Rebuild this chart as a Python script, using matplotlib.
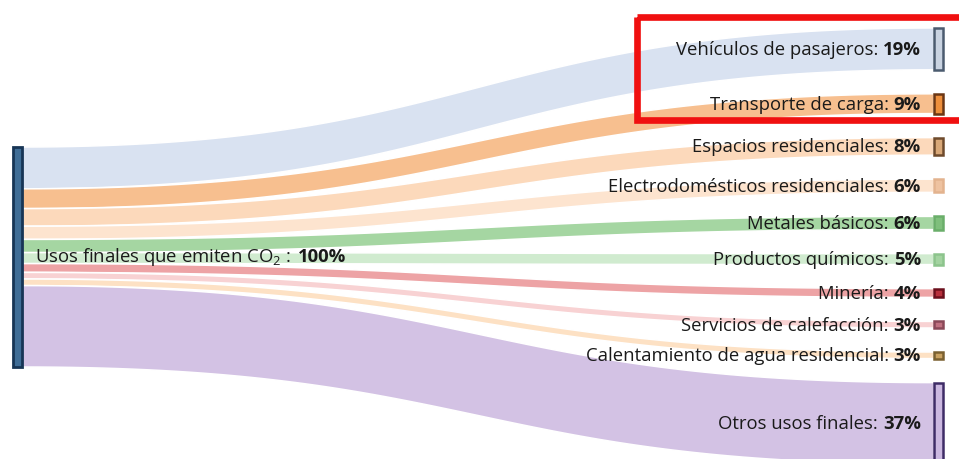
import numpy as np
import matplotlib.pyplot as plt
from matplotlib.patches import Rectangle, Polygon
from matplotlib.offsetbox import TextArea, HPacker, AnnotationBbox

plt.rcParams['font.family'] = ['Open Sans', 'DejaVu Sans']
plt.rcParams['mathtext.fontset'] = 'custom'
plt.rcParams['mathtext.rm'] = 'Open Sans'

source = 'Usos finales que emiten CO$_2$ :'
source_total = '100%'

targets = ['Vehículos de pasajeros', 'Transporte de carga', 'Espacios residenciales',
           'Electrodomésticos residenciales', 'Metales básicos', 'Productos químicos',
           'Minería', 'Servicios de calefacción', 'Calentamiento de agua residencial',
           'Otros usos finales']
shares = [19, 9, 8, 6, 6, 5, 4, 3, 3, 37]

link_colors = ['#d9e2f1', '#f7bf8f', '#fcd9bb', '#fde4cf', '#a5d6a2',
               '#d0ebcf', '#eda3a5', '#f8d2d3', '#fde1c4', '#d3c2e4']
node_faces = ['#c9d3e1', '#ee8f3c', '#d9a878', '#eec2a0', '#7fbf7c',
              '#a3d3a0', '#b8303c', '#c07080', '#c8a060', '#cbb8e0']
node_edges = ['#4b5b6f', '#6b3614', '#6e4a2c', '#e3b38e', '#6aae6a',
              '#8cc48c', '#6b0f1c', '#8a4858', '#7a6030', '#3e2c66']

W, H = 959, 460
fig = plt.figure(figsize=(W / 100, H / 100), dpi=100)
ax = fig.add_axes([0, 0, 1, 1])
ax.set_xlim(0, W)
ax.set_ylim(H, 0)
ax.axis('off')

# layout in pixels
scale = 2.2          # px per percent
gap = 24
left_x0, left_x1 = 13, 22
left_top = 148
right_x0, right_x1 = 934, 943
right_top = 29
fs = 13.3

t = np.linspace(0, 1, 80)


def bezier(y0, y1, xa, xb):
    xm = (xa + xb) / 2
    x = (1 - t)**3 * xa + 3 * (1 - t)**2 * t * xm + 3 * (1 - t) * t**2 * xm + t**3 * xb
    y = (1 - t)**3 * y0 + 3 * (1 - t)**2 * t * y0 + 3 * (1 - t) * t**2 * y1 + t**3 * y1
    return x, y


ly = left_top
ry = right_top
for name, v, lc, nf, ne in zip(targets, shares, link_colors, node_faces, node_edges):
    h = v * scale
    xt, yt = bezier(ly, ry, left_x1, right_x0)
    xb, yb = bezier(ly + h, ry + h, left_x1, right_x0)
    pts = np.vstack([np.column_stack([xt, yt]), np.column_stack([xb, yb])[::-1]])
    ax.add_patch(Polygon(pts, closed=True, facecolor=lc, edgecolor='white', lw=1.1, zorder=1))

    ax.add_patch(Rectangle((right_x0, ry), right_x1 - right_x0, h,
                           facecolor=nf, edgecolor=ne, lw=1.8, zorder=3))

    lab = HPacker(children=[TextArea(name + ': ', textprops=dict(size=fs, color='#1a1a1a')),
                            TextArea(f'{v}%', textprops=dict(size=fs, color='#1a1a1a', weight='bold'))],
                  align='baseline', pad=0, sep=0)
    ax.add_artist(AnnotationBbox(lab, (921, ry + h / 2), xycoords='data',
                                 box_alignment=(1, 0.5), frameon=False, pad=0, zorder=4))
    ly += h
    ry += h + gap

# source node
total = sum(shares)
ax.add_patch(Rectangle((left_x0, left_top), left_x1 - left_x0, total * scale,
                       facecolor='#3f6d96', edgecolor='#173555', lw=2, zorder=3))
src = HPacker(children=[TextArea(source, textprops=dict(size=fs, color='#1a1a1a')),
                        TextArea(source_total, textprops=dict(size=fs, color='#1a1a1a', weight='bold'))],
              align='baseline', pad=0, sep=5)
ax.add_artist(AnnotationBbox(src, (35, 257), xycoords='data', box_alignment=(0, 0.5),
                             frameon=False, pad=0, zorder=4))

# highlight box around the transport flows
ax.add_patch(Rectangle((636.5, 18), 340, 103, facecolor='none', edgecolor='#f01010',
                       lw=4.8, zorder=5, clip_on=True))

fig.savefig('out.png', dpi=100)
